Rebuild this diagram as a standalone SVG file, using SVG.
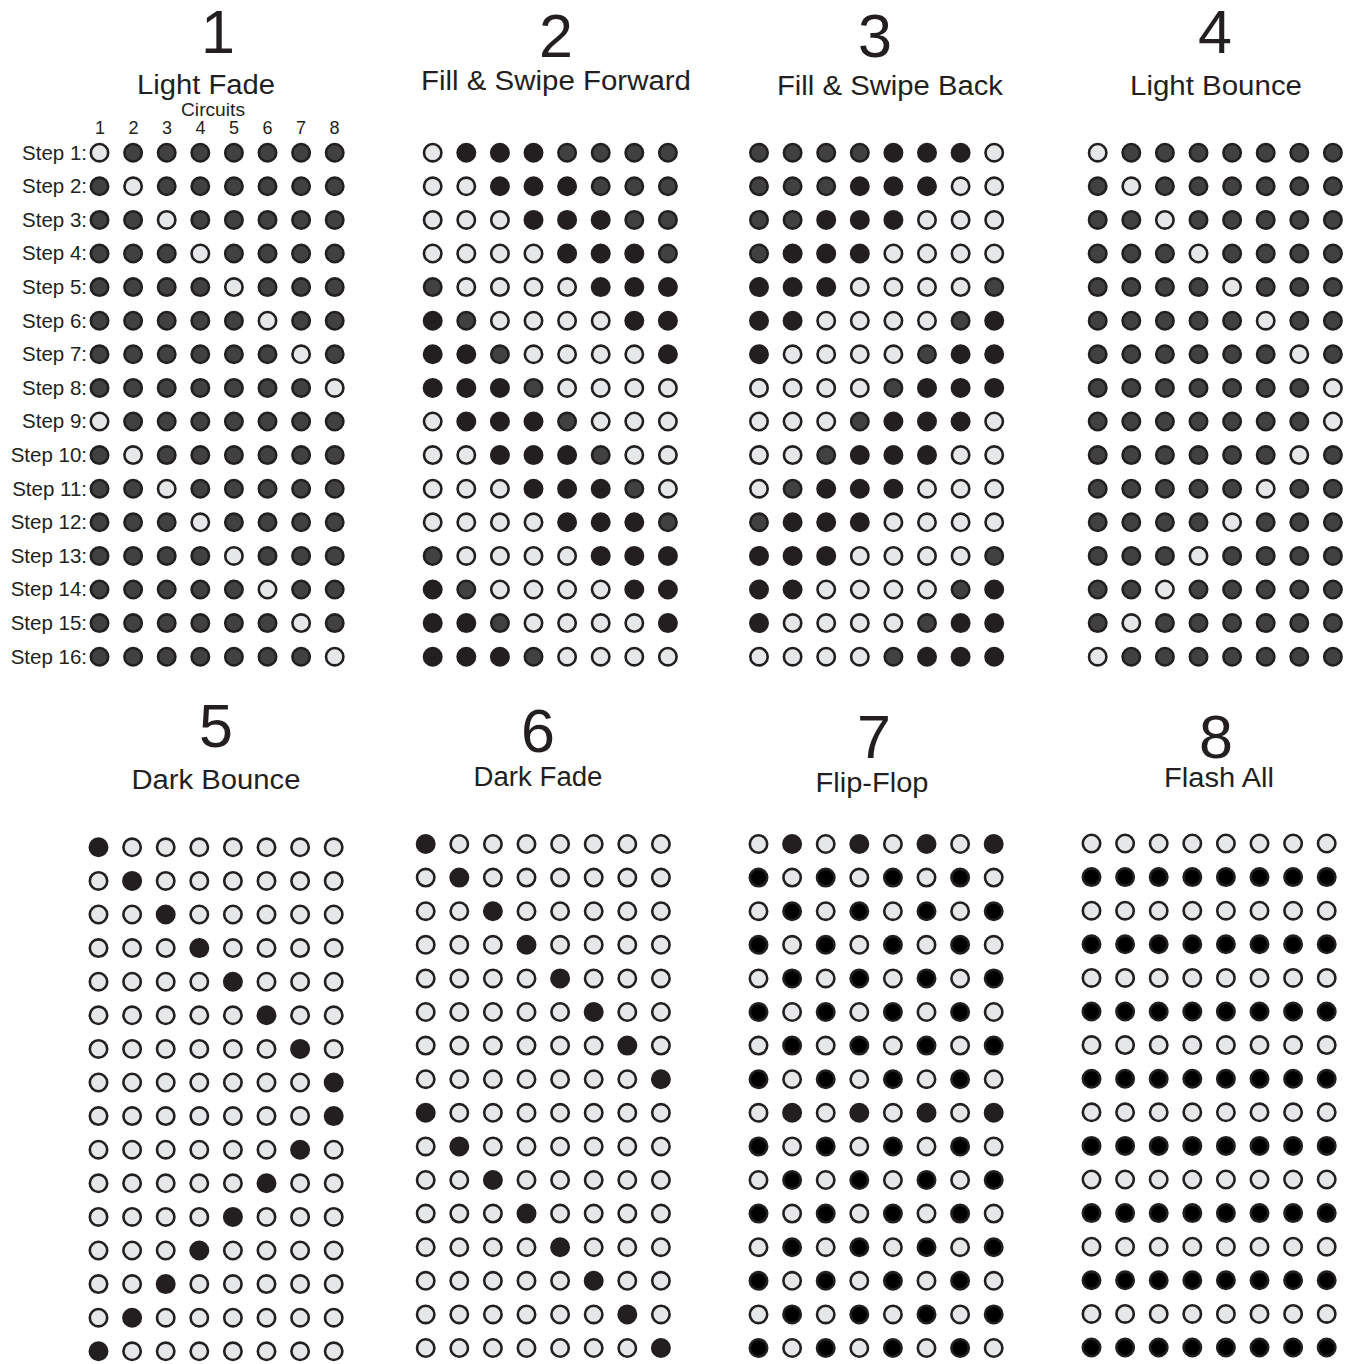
<svg xmlns="http://www.w3.org/2000/svg" xmlns:xlink="http://www.w3.org/1999/xlink" width="1356" height="1364" viewBox="0 0 1356 1364">
<style>
text{font-family:"Liberation Sans",Arial,sans-serif;fill:#231f20}
.num{font-size:61px;text-anchor:middle}
.ttl{font-size:27px;text-anchor:middle}
.sm{font-size:18px;text-anchor:middle}
.stp{font-size:20.5px;text-anchor:end}
</style>
<defs>
<circle id="L" r="8.7" fill="#e6e7e8" stroke="#231f20" stroke-width="2.6"/>
<circle id="G" r="8.7" fill="#414141" stroke="#231f20" stroke-width="2.6"/>
<circle id="B" r="8.7" fill="#231f20" stroke="#231f20" stroke-width="2.6"/>
<circle id="K" r="8.7" fill="#000000" stroke="#231f20" stroke-width="2.6"/>
</defs>
<rect width="1356" height="1364" fill="#ffffff"/>
<g id="connectors"/>

<g id="panel1">
<text class="num" x="218" y="53">1</text>
<text class="ttl" x="206" y="94" textLength="138" lengthAdjust="spacingAndGlyphs">Light Fade</text>
<text class="sm" x="213" y="116" textLength="64" lengthAdjust="spacingAndGlyphs">Circuits</text>
<text class="sm" x="100" y="134">1</text><text class="sm" x="133.5" y="134">2</text><text class="sm" x="167" y="134">3</text><text class="sm" x="200.5" y="134">4</text><text class="sm" x="234" y="134">5</text><text class="sm" x="267.5" y="134">6</text><text class="sm" x="301" y="134">7</text><text class="sm" x="334.5" y="134">8</text>
<text class="stp" x="87" y="159.5">Step 1:</text>
<text class="stp" x="87" y="193.1">Step 2:</text>
<text class="stp" x="87" y="226.7">Step 3:</text>
<text class="stp" x="87" y="260.3">Step 4:</text>
<text class="stp" x="87" y="293.9">Step 5:</text>
<text class="stp" x="87" y="327.5">Step 6:</text>
<text class="stp" x="87" y="361.1">Step 7:</text>
<text class="stp" x="87" y="394.7">Step 8:</text>
<text class="stp" x="87" y="428.3">Step 9:</text>
<text class="stp" x="87" y="461.9">Step 10:</text>
<text class="stp" x="87" y="495.5">Step 11:</text>
<text class="stp" x="87" y="529.1">Step 12:</text>
<text class="stp" x="87" y="562.7">Step 13:</text>
<text class="stp" x="87" y="596.3">Step 14:</text>
<text class="stp" x="87" y="629.9">Step 15:</text>
<text class="stp" x="87" y="663.5">Step 16:</text>
<g transform="translate(99.5,152.7)">
<g><use href="#L"/><use href="#G" x="33.6"/><use href="#G" x="67.2"/><use href="#G" x="100.8"/><use href="#G" x="134.4"/><use href="#G" x="168"/><use href="#G" x="201.6"/><use href="#G" x="235.2"/></g>
<g transform="translate(0,33.6)"><use href="#G"/><use href="#L" x="33.6"/><use href="#G" x="67.2"/><use href="#G" x="100.8"/><use href="#G" x="134.4"/><use href="#G" x="168"/><use href="#G" x="201.6"/><use href="#G" x="235.2"/></g>
<g transform="translate(0,67.2)"><use href="#G"/><use href="#G" x="33.6"/><use href="#L" x="67.2"/><use href="#G" x="100.8"/><use href="#G" x="134.4"/><use href="#G" x="168"/><use href="#G" x="201.6"/><use href="#G" x="235.2"/></g>
<g transform="translate(0,100.8)"><use href="#G"/><use href="#G" x="33.6"/><use href="#G" x="67.2"/><use href="#L" x="100.8"/><use href="#G" x="134.4"/><use href="#G" x="168"/><use href="#G" x="201.6"/><use href="#G" x="235.2"/></g>
<g transform="translate(0,134.4)"><use href="#G"/><use href="#G" x="33.6"/><use href="#G" x="67.2"/><use href="#G" x="100.8"/><use href="#L" x="134.4"/><use href="#G" x="168"/><use href="#G" x="201.6"/><use href="#G" x="235.2"/></g>
<g transform="translate(0,168)"><use href="#G"/><use href="#G" x="33.6"/><use href="#G" x="67.2"/><use href="#G" x="100.8"/><use href="#G" x="134.4"/><use href="#L" x="168"/><use href="#G" x="201.6"/><use href="#G" x="235.2"/></g>
<g transform="translate(0,201.6)"><use href="#G"/><use href="#G" x="33.6"/><use href="#G" x="67.2"/><use href="#G" x="100.8"/><use href="#G" x="134.4"/><use href="#G" x="168"/><use href="#L" x="201.6"/><use href="#G" x="235.2"/></g>
<g transform="translate(0,235.2)"><use href="#G"/><use href="#G" x="33.6"/><use href="#G" x="67.2"/><use href="#G" x="100.8"/><use href="#G" x="134.4"/><use href="#G" x="168"/><use href="#G" x="201.6"/><use href="#L" x="235.2"/></g>
<g transform="translate(0,268.8)"><use href="#L"/><use href="#G" x="33.6"/><use href="#G" x="67.2"/><use href="#G" x="100.8"/><use href="#G" x="134.4"/><use href="#G" x="168"/><use href="#G" x="201.6"/><use href="#G" x="235.2"/></g>
<g transform="translate(0,302.4)"><use href="#G"/><use href="#L" x="33.6"/><use href="#G" x="67.2"/><use href="#G" x="100.8"/><use href="#G" x="134.4"/><use href="#G" x="168"/><use href="#G" x="201.6"/><use href="#G" x="235.2"/></g>
<g transform="translate(0,336)"><use href="#G"/><use href="#G" x="33.6"/><use href="#L" x="67.2"/><use href="#G" x="100.8"/><use href="#G" x="134.4"/><use href="#G" x="168"/><use href="#G" x="201.6"/><use href="#G" x="235.2"/></g>
<g transform="translate(0,369.6)"><use href="#G"/><use href="#G" x="33.6"/><use href="#G" x="67.2"/><use href="#L" x="100.8"/><use href="#G" x="134.4"/><use href="#G" x="168"/><use href="#G" x="201.6"/><use href="#G" x="235.2"/></g>
<g transform="translate(0,403.2)"><use href="#G"/><use href="#G" x="33.6"/><use href="#G" x="67.2"/><use href="#G" x="100.8"/><use href="#L" x="134.4"/><use href="#G" x="168"/><use href="#G" x="201.6"/><use href="#G" x="235.2"/></g>
<g transform="translate(0,436.8)"><use href="#G"/><use href="#G" x="33.6"/><use href="#G" x="67.2"/><use href="#G" x="100.8"/><use href="#G" x="134.4"/><use href="#L" x="168"/><use href="#G" x="201.6"/><use href="#G" x="235.2"/></g>
<g transform="translate(0,470.4)"><use href="#G"/><use href="#G" x="33.6"/><use href="#G" x="67.2"/><use href="#G" x="100.8"/><use href="#G" x="134.4"/><use href="#G" x="168"/><use href="#L" x="201.6"/><use href="#G" x="235.2"/></g>
<g transform="translate(0,504)"><use href="#G"/><use href="#G" x="33.6"/><use href="#G" x="67.2"/><use href="#G" x="100.8"/><use href="#G" x="134.4"/><use href="#G" x="168"/><use href="#G" x="201.6"/><use href="#L" x="235.2"/></g>
</g>
</g>

<g id="panel2">
<text class="num" x="556" y="57">2</text>
<text class="ttl" x="556" y="90" textLength="270" lengthAdjust="spacingAndGlyphs">Fill &amp; Swipe Forward</text>
<g transform="translate(432.7,152.7)">
<g><use href="#L"/><use href="#B" x="33.6"/><use href="#B" x="67.2"/><use href="#B" x="100.8"/><use href="#G" x="134.4"/><use href="#G" x="168"/><use href="#G" x="201.6"/><use href="#G" x="235.2"/></g>
<g transform="translate(0,33.6)"><use href="#L"/><use href="#L" x="33.6"/><use href="#B" x="67.2"/><use href="#B" x="100.8"/><use href="#B" x="134.4"/><use href="#G" x="168"/><use href="#G" x="201.6"/><use href="#G" x="235.2"/></g>
<g transform="translate(0,67.2)"><use href="#L"/><use href="#L" x="33.6"/><use href="#L" x="67.2"/><use href="#B" x="100.8"/><use href="#B" x="134.4"/><use href="#B" x="168"/><use href="#G" x="201.6"/><use href="#G" x="235.2"/></g>
<g transform="translate(0,100.8)"><use href="#L"/><use href="#L" x="33.6"/><use href="#L" x="67.2"/><use href="#L" x="100.8"/><use href="#B" x="134.4"/><use href="#B" x="168"/><use href="#B" x="201.6"/><use href="#G" x="235.2"/></g>
<g transform="translate(0,134.4)"><use href="#G"/><use href="#L" x="33.6"/><use href="#L" x="67.2"/><use href="#L" x="100.8"/><use href="#L" x="134.4"/><use href="#B" x="168"/><use href="#B" x="201.6"/><use href="#B" x="235.2"/></g>
<g transform="translate(0,168)"><use href="#B"/><use href="#G" x="33.6"/><use href="#L" x="67.2"/><use href="#L" x="100.8"/><use href="#L" x="134.4"/><use href="#L" x="168"/><use href="#B" x="201.6"/><use href="#B" x="235.2"/></g>
<g transform="translate(0,201.6)"><use href="#B"/><use href="#B" x="33.6"/><use href="#G" x="67.2"/><use href="#L" x="100.8"/><use href="#L" x="134.4"/><use href="#L" x="168"/><use href="#L" x="201.6"/><use href="#B" x="235.2"/></g>
<g transform="translate(0,235.2)"><use href="#B"/><use href="#B" x="33.6"/><use href="#B" x="67.2"/><use href="#G" x="100.8"/><use href="#L" x="134.4"/><use href="#L" x="168"/><use href="#L" x="201.6"/><use href="#L" x="235.2"/></g>
<g transform="translate(0,268.8)"><use href="#L"/><use href="#B" x="33.6"/><use href="#B" x="67.2"/><use href="#B" x="100.8"/><use href="#G" x="134.4"/><use href="#L" x="168"/><use href="#L" x="201.6"/><use href="#L" x="235.2"/></g>
<g transform="translate(0,302.4)"><use href="#L"/><use href="#L" x="33.6"/><use href="#B" x="67.2"/><use href="#B" x="100.8"/><use href="#B" x="134.4"/><use href="#G" x="168"/><use href="#L" x="201.6"/><use href="#L" x="235.2"/></g>
<g transform="translate(0,336)"><use href="#L"/><use href="#L" x="33.6"/><use href="#L" x="67.2"/><use href="#B" x="100.8"/><use href="#B" x="134.4"/><use href="#B" x="168"/><use href="#G" x="201.6"/><use href="#L" x="235.2"/></g>
<g transform="translate(0,369.6)"><use href="#L"/><use href="#L" x="33.6"/><use href="#L" x="67.2"/><use href="#L" x="100.8"/><use href="#B" x="134.4"/><use href="#B" x="168"/><use href="#B" x="201.6"/><use href="#G" x="235.2"/></g>
<g transform="translate(0,403.2)"><use href="#G"/><use href="#L" x="33.6"/><use href="#L" x="67.2"/><use href="#L" x="100.8"/><use href="#L" x="134.4"/><use href="#B" x="168"/><use href="#B" x="201.6"/><use href="#B" x="235.2"/></g>
<g transform="translate(0,436.8)"><use href="#B"/><use href="#G" x="33.6"/><use href="#L" x="67.2"/><use href="#L" x="100.8"/><use href="#L" x="134.4"/><use href="#L" x="168"/><use href="#B" x="201.6"/><use href="#B" x="235.2"/></g>
<g transform="translate(0,470.4)"><use href="#B"/><use href="#B" x="33.6"/><use href="#G" x="67.2"/><use href="#L" x="100.8"/><use href="#L" x="134.4"/><use href="#L" x="168"/><use href="#L" x="201.6"/><use href="#B" x="235.2"/></g>
<g transform="translate(0,504)"><use href="#B"/><use href="#B" x="33.6"/><use href="#B" x="67.2"/><use href="#G" x="100.8"/><use href="#L" x="134.4"/><use href="#L" x="168"/><use href="#L" x="201.6"/><use href="#L" x="235.2"/></g>
</g>
</g>

<g id="panel3">
<text class="num" x="875" y="57">3</text>
<text class="ttl" x="890" y="95" textLength="226" lengthAdjust="spacingAndGlyphs">Fill &amp; Swipe Back</text>
<g transform="translate(759,152.7)">
<g><use href="#G"/><use href="#G" x="33.6"/><use href="#G" x="67.2"/><use href="#G" x="100.8"/><use href="#B" x="134.4"/><use href="#B" x="168"/><use href="#B" x="201.6"/><use href="#L" x="235.2"/></g>
<g transform="translate(0,33.6)"><use href="#G"/><use href="#G" x="33.6"/><use href="#G" x="67.2"/><use href="#B" x="100.8"/><use href="#B" x="134.4"/><use href="#B" x="168"/><use href="#L" x="201.6"/><use href="#L" x="235.2"/></g>
<g transform="translate(0,67.2)"><use href="#G"/><use href="#G" x="33.6"/><use href="#B" x="67.2"/><use href="#B" x="100.8"/><use href="#B" x="134.4"/><use href="#L" x="168"/><use href="#L" x="201.6"/><use href="#L" x="235.2"/></g>
<g transform="translate(0,100.8)"><use href="#G"/><use href="#B" x="33.6"/><use href="#B" x="67.2"/><use href="#B" x="100.8"/><use href="#L" x="134.4"/><use href="#L" x="168"/><use href="#L" x="201.6"/><use href="#L" x="235.2"/></g>
<g transform="translate(0,134.4)"><use href="#B"/><use href="#B" x="33.6"/><use href="#B" x="67.2"/><use href="#L" x="100.8"/><use href="#L" x="134.4"/><use href="#L" x="168"/><use href="#L" x="201.6"/><use href="#G" x="235.2"/></g>
<g transform="translate(0,168)"><use href="#B"/><use href="#B" x="33.6"/><use href="#L" x="67.2"/><use href="#L" x="100.8"/><use href="#L" x="134.4"/><use href="#L" x="168"/><use href="#G" x="201.6"/><use href="#B" x="235.2"/></g>
<g transform="translate(0,201.6)"><use href="#B"/><use href="#L" x="33.6"/><use href="#L" x="67.2"/><use href="#L" x="100.8"/><use href="#L" x="134.4"/><use href="#G" x="168"/><use href="#B" x="201.6"/><use href="#B" x="235.2"/></g>
<g transform="translate(0,235.2)"><use href="#L"/><use href="#L" x="33.6"/><use href="#L" x="67.2"/><use href="#L" x="100.8"/><use href="#G" x="134.4"/><use href="#B" x="168"/><use href="#B" x="201.6"/><use href="#B" x="235.2"/></g>
<g transform="translate(0,268.8)"><use href="#L"/><use href="#L" x="33.6"/><use href="#L" x="67.2"/><use href="#G" x="100.8"/><use href="#B" x="134.4"/><use href="#B" x="168"/><use href="#B" x="201.6"/><use href="#L" x="235.2"/></g>
<g transform="translate(0,302.4)"><use href="#L"/><use href="#L" x="33.6"/><use href="#G" x="67.2"/><use href="#B" x="100.8"/><use href="#B" x="134.4"/><use href="#B" x="168"/><use href="#L" x="201.6"/><use href="#L" x="235.2"/></g>
<g transform="translate(0,336)"><use href="#L"/><use href="#G" x="33.6"/><use href="#B" x="67.2"/><use href="#B" x="100.8"/><use href="#B" x="134.4"/><use href="#L" x="168"/><use href="#L" x="201.6"/><use href="#L" x="235.2"/></g>
<g transform="translate(0,369.6)"><use href="#G"/><use href="#B" x="33.6"/><use href="#B" x="67.2"/><use href="#B" x="100.8"/><use href="#L" x="134.4"/><use href="#L" x="168"/><use href="#L" x="201.6"/><use href="#L" x="235.2"/></g>
<g transform="translate(0,403.2)"><use href="#B"/><use href="#B" x="33.6"/><use href="#B" x="67.2"/><use href="#L" x="100.8"/><use href="#L" x="134.4"/><use href="#L" x="168"/><use href="#L" x="201.6"/><use href="#G" x="235.2"/></g>
<g transform="translate(0,436.8)"><use href="#B"/><use href="#B" x="33.6"/><use href="#L" x="67.2"/><use href="#L" x="100.8"/><use href="#L" x="134.4"/><use href="#L" x="168"/><use href="#G" x="201.6"/><use href="#B" x="235.2"/></g>
<g transform="translate(0,470.4)"><use href="#B"/><use href="#L" x="33.6"/><use href="#L" x="67.2"/><use href="#L" x="100.8"/><use href="#L" x="134.4"/><use href="#G" x="168"/><use href="#B" x="201.6"/><use href="#B" x="235.2"/></g>
<g transform="translate(0,504)"><use href="#L"/><use href="#L" x="33.6"/><use href="#L" x="67.2"/><use href="#L" x="100.8"/><use href="#G" x="134.4"/><use href="#B" x="168"/><use href="#B" x="201.6"/><use href="#B" x="235.2"/></g>
</g>
</g>

<g id="panel4">
<text class="num" x="1215" y="53">4</text>
<text class="ttl" x="1216" y="95" textLength="172" lengthAdjust="spacingAndGlyphs">Light Bounce</text>
<g transform="translate(1097.7,152.7)">
<g><use href="#L"/><use href="#G" x="33.6"/><use href="#G" x="67.2"/><use href="#G" x="100.8"/><use href="#G" x="134.4"/><use href="#G" x="168"/><use href="#G" x="201.6"/><use href="#G" x="235.2"/></g>
<g transform="translate(0,33.6)"><use href="#G"/><use href="#L" x="33.6"/><use href="#G" x="67.2"/><use href="#G" x="100.8"/><use href="#G" x="134.4"/><use href="#G" x="168"/><use href="#G" x="201.6"/><use href="#G" x="235.2"/></g>
<g transform="translate(0,67.2)"><use href="#G"/><use href="#G" x="33.6"/><use href="#L" x="67.2"/><use href="#G" x="100.8"/><use href="#G" x="134.4"/><use href="#G" x="168"/><use href="#G" x="201.6"/><use href="#G" x="235.2"/></g>
<g transform="translate(0,100.8)"><use href="#G"/><use href="#G" x="33.6"/><use href="#G" x="67.2"/><use href="#L" x="100.8"/><use href="#G" x="134.4"/><use href="#G" x="168"/><use href="#G" x="201.6"/><use href="#G" x="235.2"/></g>
<g transform="translate(0,134.4)"><use href="#G"/><use href="#G" x="33.6"/><use href="#G" x="67.2"/><use href="#G" x="100.8"/><use href="#L" x="134.4"/><use href="#G" x="168"/><use href="#G" x="201.6"/><use href="#G" x="235.2"/></g>
<g transform="translate(0,168)"><use href="#G"/><use href="#G" x="33.6"/><use href="#G" x="67.2"/><use href="#G" x="100.8"/><use href="#G" x="134.4"/><use href="#L" x="168"/><use href="#G" x="201.6"/><use href="#G" x="235.2"/></g>
<g transform="translate(0,201.6)"><use href="#G"/><use href="#G" x="33.6"/><use href="#G" x="67.2"/><use href="#G" x="100.8"/><use href="#G" x="134.4"/><use href="#G" x="168"/><use href="#L" x="201.6"/><use href="#G" x="235.2"/></g>
<g transform="translate(0,235.2)"><use href="#G"/><use href="#G" x="33.6"/><use href="#G" x="67.2"/><use href="#G" x="100.8"/><use href="#G" x="134.4"/><use href="#G" x="168"/><use href="#G" x="201.6"/><use href="#L" x="235.2"/></g>
<g transform="translate(0,268.8)"><use href="#G"/><use href="#G" x="33.6"/><use href="#G" x="67.2"/><use href="#G" x="100.8"/><use href="#G" x="134.4"/><use href="#G" x="168"/><use href="#G" x="201.6"/><use href="#L" x="235.2"/></g>
<g transform="translate(0,302.4)"><use href="#G"/><use href="#G" x="33.6"/><use href="#G" x="67.2"/><use href="#G" x="100.8"/><use href="#G" x="134.4"/><use href="#G" x="168"/><use href="#L" x="201.6"/><use href="#G" x="235.2"/></g>
<g transform="translate(0,336)"><use href="#G"/><use href="#G" x="33.6"/><use href="#G" x="67.2"/><use href="#G" x="100.8"/><use href="#G" x="134.4"/><use href="#L" x="168"/><use href="#G" x="201.6"/><use href="#G" x="235.2"/></g>
<g transform="translate(0,369.6)"><use href="#G"/><use href="#G" x="33.6"/><use href="#G" x="67.2"/><use href="#G" x="100.8"/><use href="#L" x="134.4"/><use href="#G" x="168"/><use href="#G" x="201.6"/><use href="#G" x="235.2"/></g>
<g transform="translate(0,403.2)"><use href="#G"/><use href="#G" x="33.6"/><use href="#G" x="67.2"/><use href="#L" x="100.8"/><use href="#G" x="134.4"/><use href="#G" x="168"/><use href="#G" x="201.6"/><use href="#G" x="235.2"/></g>
<g transform="translate(0,436.8)"><use href="#G"/><use href="#G" x="33.6"/><use href="#L" x="67.2"/><use href="#G" x="100.8"/><use href="#G" x="134.4"/><use href="#G" x="168"/><use href="#G" x="201.6"/><use href="#G" x="235.2"/></g>
<g transform="translate(0,470.4)"><use href="#G"/><use href="#L" x="33.6"/><use href="#G" x="67.2"/><use href="#G" x="100.8"/><use href="#G" x="134.4"/><use href="#G" x="168"/><use href="#G" x="201.6"/><use href="#G" x="235.2"/></g>
<g transform="translate(0,504)"><use href="#L"/><use href="#G" x="33.6"/><use href="#G" x="67.2"/><use href="#G" x="100.8"/><use href="#G" x="134.4"/><use href="#G" x="168"/><use href="#G" x="201.6"/><use href="#G" x="235.2"/></g>
</g>
</g>

<g id="panel5">
<text class="num" x="216" y="747">5</text>
<text class="ttl" x="216" y="789" textLength="169" lengthAdjust="spacingAndGlyphs">Dark Bounce</text>
<g transform="translate(98.5,847.3)">
<g><use href="#B"/><use href="#L" x="33.6"/><use href="#L" x="67.2"/><use href="#L" x="100.8"/><use href="#L" x="134.4"/><use href="#L" x="168"/><use href="#L" x="201.6"/><use href="#L" x="235.2"/></g>
<g transform="translate(0,33.6)"><use href="#L"/><use href="#B" x="33.6"/><use href="#L" x="67.2"/><use href="#L" x="100.8"/><use href="#L" x="134.4"/><use href="#L" x="168"/><use href="#L" x="201.6"/><use href="#L" x="235.2"/></g>
<g transform="translate(0,67.2)"><use href="#L"/><use href="#L" x="33.6"/><use href="#B" x="67.2"/><use href="#L" x="100.8"/><use href="#L" x="134.4"/><use href="#L" x="168"/><use href="#L" x="201.6"/><use href="#L" x="235.2"/></g>
<g transform="translate(0,100.8)"><use href="#L"/><use href="#L" x="33.6"/><use href="#L" x="67.2"/><use href="#B" x="100.8"/><use href="#L" x="134.4"/><use href="#L" x="168"/><use href="#L" x="201.6"/><use href="#L" x="235.2"/></g>
<g transform="translate(0,134.4)"><use href="#L"/><use href="#L" x="33.6"/><use href="#L" x="67.2"/><use href="#L" x="100.8"/><use href="#B" x="134.4"/><use href="#L" x="168"/><use href="#L" x="201.6"/><use href="#L" x="235.2"/></g>
<g transform="translate(0,168)"><use href="#L"/><use href="#L" x="33.6"/><use href="#L" x="67.2"/><use href="#L" x="100.8"/><use href="#L" x="134.4"/><use href="#B" x="168"/><use href="#L" x="201.6"/><use href="#L" x="235.2"/></g>
<g transform="translate(0,201.6)"><use href="#L"/><use href="#L" x="33.6"/><use href="#L" x="67.2"/><use href="#L" x="100.8"/><use href="#L" x="134.4"/><use href="#L" x="168"/><use href="#B" x="201.6"/><use href="#L" x="235.2"/></g>
<g transform="translate(0,235.2)"><use href="#L"/><use href="#L" x="33.6"/><use href="#L" x="67.2"/><use href="#L" x="100.8"/><use href="#L" x="134.4"/><use href="#L" x="168"/><use href="#L" x="201.6"/><use href="#B" x="235.2"/></g>
<g transform="translate(0,268.8)"><use href="#L"/><use href="#L" x="33.6"/><use href="#L" x="67.2"/><use href="#L" x="100.8"/><use href="#L" x="134.4"/><use href="#L" x="168"/><use href="#L" x="201.6"/><use href="#B" x="235.2"/></g>
<g transform="translate(0,302.4)"><use href="#L"/><use href="#L" x="33.6"/><use href="#L" x="67.2"/><use href="#L" x="100.8"/><use href="#L" x="134.4"/><use href="#L" x="168"/><use href="#B" x="201.6"/><use href="#L" x="235.2"/></g>
<g transform="translate(0,336)"><use href="#L"/><use href="#L" x="33.6"/><use href="#L" x="67.2"/><use href="#L" x="100.8"/><use href="#L" x="134.4"/><use href="#B" x="168"/><use href="#L" x="201.6"/><use href="#L" x="235.2"/></g>
<g transform="translate(0,369.6)"><use href="#L"/><use href="#L" x="33.6"/><use href="#L" x="67.2"/><use href="#L" x="100.8"/><use href="#B" x="134.4"/><use href="#L" x="168"/><use href="#L" x="201.6"/><use href="#L" x="235.2"/></g>
<g transform="translate(0,403.2)"><use href="#L"/><use href="#L" x="33.6"/><use href="#L" x="67.2"/><use href="#B" x="100.8"/><use href="#L" x="134.4"/><use href="#L" x="168"/><use href="#L" x="201.6"/><use href="#L" x="235.2"/></g>
<g transform="translate(0,436.8)"><use href="#L"/><use href="#L" x="33.6"/><use href="#B" x="67.2"/><use href="#L" x="100.8"/><use href="#L" x="134.4"/><use href="#L" x="168"/><use href="#L" x="201.6"/><use href="#L" x="235.2"/></g>
<g transform="translate(0,470.4)"><use href="#L"/><use href="#B" x="33.6"/><use href="#L" x="67.2"/><use href="#L" x="100.8"/><use href="#L" x="134.4"/><use href="#L" x="168"/><use href="#L" x="201.6"/><use href="#L" x="235.2"/></g>
<g transform="translate(0,504)"><use href="#B"/><use href="#L" x="33.6"/><use href="#L" x="67.2"/><use href="#L" x="100.8"/><use href="#L" x="134.4"/><use href="#L" x="168"/><use href="#L" x="201.6"/><use href="#L" x="235.2"/></g>
</g>
</g>

<g id="panel6">
<text class="num" x="538" y="752">6</text>
<text class="ttl" x="538" y="786" textLength="129" lengthAdjust="spacingAndGlyphs">Dark Fade</text>
<g transform="translate(425.7,844)">
<g><use href="#B"/><use href="#L" x="33.6"/><use href="#L" x="67.2"/><use href="#L" x="100.8"/><use href="#L" x="134.4"/><use href="#L" x="168"/><use href="#L" x="201.6"/><use href="#L" x="235.2"/></g>
<g transform="translate(0,33.6)"><use href="#L"/><use href="#B" x="33.6"/><use href="#L" x="67.2"/><use href="#L" x="100.8"/><use href="#L" x="134.4"/><use href="#L" x="168"/><use href="#L" x="201.6"/><use href="#L" x="235.2"/></g>
<g transform="translate(0,67.2)"><use href="#L"/><use href="#L" x="33.6"/><use href="#B" x="67.2"/><use href="#L" x="100.8"/><use href="#L" x="134.4"/><use href="#L" x="168"/><use href="#L" x="201.6"/><use href="#L" x="235.2"/></g>
<g transform="translate(0,100.8)"><use href="#L"/><use href="#L" x="33.6"/><use href="#L" x="67.2"/><use href="#B" x="100.8"/><use href="#L" x="134.4"/><use href="#L" x="168"/><use href="#L" x="201.6"/><use href="#L" x="235.2"/></g>
<g transform="translate(0,134.4)"><use href="#L"/><use href="#L" x="33.6"/><use href="#L" x="67.2"/><use href="#L" x="100.8"/><use href="#B" x="134.4"/><use href="#L" x="168"/><use href="#L" x="201.6"/><use href="#L" x="235.2"/></g>
<g transform="translate(0,168)"><use href="#L"/><use href="#L" x="33.6"/><use href="#L" x="67.2"/><use href="#L" x="100.8"/><use href="#L" x="134.4"/><use href="#B" x="168"/><use href="#L" x="201.6"/><use href="#L" x="235.2"/></g>
<g transform="translate(0,201.6)"><use href="#L"/><use href="#L" x="33.6"/><use href="#L" x="67.2"/><use href="#L" x="100.8"/><use href="#L" x="134.4"/><use href="#L" x="168"/><use href="#B" x="201.6"/><use href="#L" x="235.2"/></g>
<g transform="translate(0,235.2)"><use href="#L"/><use href="#L" x="33.6"/><use href="#L" x="67.2"/><use href="#L" x="100.8"/><use href="#L" x="134.4"/><use href="#L" x="168"/><use href="#L" x="201.6"/><use href="#B" x="235.2"/></g>
<g transform="translate(0,268.8)"><use href="#B"/><use href="#L" x="33.6"/><use href="#L" x="67.2"/><use href="#L" x="100.8"/><use href="#L" x="134.4"/><use href="#L" x="168"/><use href="#L" x="201.6"/><use href="#L" x="235.2"/></g>
<g transform="translate(0,302.4)"><use href="#L"/><use href="#B" x="33.6"/><use href="#L" x="67.2"/><use href="#L" x="100.8"/><use href="#L" x="134.4"/><use href="#L" x="168"/><use href="#L" x="201.6"/><use href="#L" x="235.2"/></g>
<g transform="translate(0,336)"><use href="#L"/><use href="#L" x="33.6"/><use href="#B" x="67.2"/><use href="#L" x="100.8"/><use href="#L" x="134.4"/><use href="#L" x="168"/><use href="#L" x="201.6"/><use href="#L" x="235.2"/></g>
<g transform="translate(0,369.6)"><use href="#L"/><use href="#L" x="33.6"/><use href="#L" x="67.2"/><use href="#B" x="100.8"/><use href="#L" x="134.4"/><use href="#L" x="168"/><use href="#L" x="201.6"/><use href="#L" x="235.2"/></g>
<g transform="translate(0,403.2)"><use href="#L"/><use href="#L" x="33.6"/><use href="#L" x="67.2"/><use href="#L" x="100.8"/><use href="#B" x="134.4"/><use href="#L" x="168"/><use href="#L" x="201.6"/><use href="#L" x="235.2"/></g>
<g transform="translate(0,436.8)"><use href="#L"/><use href="#L" x="33.6"/><use href="#L" x="67.2"/><use href="#L" x="100.8"/><use href="#L" x="134.4"/><use href="#B" x="168"/><use href="#L" x="201.6"/><use href="#L" x="235.2"/></g>
<g transform="translate(0,470.4)"><use href="#L"/><use href="#L" x="33.6"/><use href="#L" x="67.2"/><use href="#L" x="100.8"/><use href="#L" x="134.4"/><use href="#L" x="168"/><use href="#B" x="201.6"/><use href="#L" x="235.2"/></g>
<g transform="translate(0,504)"><use href="#L"/><use href="#L" x="33.6"/><use href="#L" x="67.2"/><use href="#L" x="100.8"/><use href="#L" x="134.4"/><use href="#L" x="168"/><use href="#L" x="201.6"/><use href="#B" x="235.2"/></g>
</g>
</g>

<g id="panel7">
<text class="num" x="874" y="758">7</text>
<text class="ttl" x="872" y="792" textLength="113" lengthAdjust="spacingAndGlyphs">Flip-Flop</text>
<g transform="translate(758.5,844)">
<g><use href="#L"/><use href="#B" x="33.6"/><use href="#L" x="67.2"/><use href="#B" x="100.8"/><use href="#L" x="134.4"/><use href="#B" x="168"/><use href="#L" x="201.6"/><use href="#B" x="235.2"/></g>
<g transform="translate(0,33.6)"><use href="#K"/><use href="#L" x="33.6"/><use href="#K" x="67.2"/><use href="#L" x="100.8"/><use href="#K" x="134.4"/><use href="#L" x="168"/><use href="#K" x="201.6"/><use href="#L" x="235.2"/></g>
<g transform="translate(0,67.2)"><use href="#L"/><use href="#K" x="33.6"/><use href="#L" x="67.2"/><use href="#K" x="100.8"/><use href="#L" x="134.4"/><use href="#K" x="168"/><use href="#L" x="201.6"/><use href="#K" x="235.2"/></g>
<g transform="translate(0,100.8)"><use href="#K"/><use href="#L" x="33.6"/><use href="#K" x="67.2"/><use href="#L" x="100.8"/><use href="#K" x="134.4"/><use href="#L" x="168"/><use href="#K" x="201.6"/><use href="#L" x="235.2"/></g>
<g transform="translate(0,134.4)"><use href="#L"/><use href="#K" x="33.6"/><use href="#L" x="67.2"/><use href="#K" x="100.8"/><use href="#L" x="134.4"/><use href="#K" x="168"/><use href="#L" x="201.6"/><use href="#K" x="235.2"/></g>
<g transform="translate(0,168)"><use href="#K"/><use href="#L" x="33.6"/><use href="#K" x="67.2"/><use href="#L" x="100.8"/><use href="#K" x="134.4"/><use href="#L" x="168"/><use href="#K" x="201.6"/><use href="#L" x="235.2"/></g>
<g transform="translate(0,201.6)"><use href="#L"/><use href="#K" x="33.6"/><use href="#L" x="67.2"/><use href="#K" x="100.8"/><use href="#L" x="134.4"/><use href="#K" x="168"/><use href="#L" x="201.6"/><use href="#K" x="235.2"/></g>
<g transform="translate(0,235.2)"><use href="#K"/><use href="#L" x="33.6"/><use href="#K" x="67.2"/><use href="#L" x="100.8"/><use href="#K" x="134.4"/><use href="#L" x="168"/><use href="#K" x="201.6"/><use href="#L" x="235.2"/></g>
<g transform="translate(0,268.8)"><use href="#L"/><use href="#B" x="33.6"/><use href="#L" x="67.2"/><use href="#B" x="100.8"/><use href="#L" x="134.4"/><use href="#B" x="168"/><use href="#L" x="201.6"/><use href="#B" x="235.2"/></g>
<g transform="translate(0,302.4)"><use href="#K"/><use href="#L" x="33.6"/><use href="#K" x="67.2"/><use href="#L" x="100.8"/><use href="#K" x="134.4"/><use href="#L" x="168"/><use href="#K" x="201.6"/><use href="#L" x="235.2"/></g>
<g transform="translate(0,336)"><use href="#L"/><use href="#K" x="33.6"/><use href="#L" x="67.2"/><use href="#K" x="100.8"/><use href="#L" x="134.4"/><use href="#K" x="168"/><use href="#L" x="201.6"/><use href="#K" x="235.2"/></g>
<g transform="translate(0,369.6)"><use href="#K"/><use href="#L" x="33.6"/><use href="#K" x="67.2"/><use href="#L" x="100.8"/><use href="#K" x="134.4"/><use href="#L" x="168"/><use href="#K" x="201.6"/><use href="#L" x="235.2"/></g>
<g transform="translate(0,403.2)"><use href="#L"/><use href="#K" x="33.6"/><use href="#L" x="67.2"/><use href="#K" x="100.8"/><use href="#L" x="134.4"/><use href="#K" x="168"/><use href="#L" x="201.6"/><use href="#K" x="235.2"/></g>
<g transform="translate(0,436.8)"><use href="#K"/><use href="#L" x="33.6"/><use href="#K" x="67.2"/><use href="#L" x="100.8"/><use href="#K" x="134.4"/><use href="#L" x="168"/><use href="#K" x="201.6"/><use href="#L" x="235.2"/></g>
<g transform="translate(0,470.4)"><use href="#L"/><use href="#K" x="33.6"/><use href="#L" x="67.2"/><use href="#K" x="100.8"/><use href="#L" x="134.4"/><use href="#K" x="168"/><use href="#L" x="201.6"/><use href="#K" x="235.2"/></g>
<g transform="translate(0,504)"><use href="#K"/><use href="#L" x="33.6"/><use href="#K" x="67.2"/><use href="#L" x="100.8"/><use href="#K" x="134.4"/><use href="#L" x="168"/><use href="#K" x="201.6"/><use href="#L" x="235.2"/></g>
</g>
</g>

<g id="panel8">
<text class="num" x="1216" y="758">8</text>
<text class="ttl" x="1219" y="787" textLength="110" lengthAdjust="spacingAndGlyphs">Flash All</text>
<g transform="translate(1091.5,843.5)">
<g><use href="#L"/><use href="#L" x="33.6"/><use href="#L" x="67.2"/><use href="#L" x="100.8"/><use href="#L" x="134.4"/><use href="#L" x="168"/><use href="#L" x="201.6"/><use href="#L" x="235.2"/></g>
<g transform="translate(0,33.6)"><use href="#K"/><use href="#K" x="33.6"/><use href="#K" x="67.2"/><use href="#K" x="100.8"/><use href="#K" x="134.4"/><use href="#K" x="168"/><use href="#K" x="201.6"/><use href="#K" x="235.2"/></g>
<g transform="translate(0,67.2)"><use href="#L"/><use href="#L" x="33.6"/><use href="#L" x="67.2"/><use href="#L" x="100.8"/><use href="#L" x="134.4"/><use href="#L" x="168"/><use href="#L" x="201.6"/><use href="#L" x="235.2"/></g>
<g transform="translate(0,100.8)"><use href="#K"/><use href="#K" x="33.6"/><use href="#K" x="67.2"/><use href="#K" x="100.8"/><use href="#K" x="134.4"/><use href="#K" x="168"/><use href="#K" x="201.6"/><use href="#K" x="235.2"/></g>
<g transform="translate(0,134.4)"><use href="#L"/><use href="#L" x="33.6"/><use href="#L" x="67.2"/><use href="#L" x="100.8"/><use href="#L" x="134.4"/><use href="#L" x="168"/><use href="#L" x="201.6"/><use href="#L" x="235.2"/></g>
<g transform="translate(0,168)"><use href="#K"/><use href="#K" x="33.6"/><use href="#K" x="67.2"/><use href="#K" x="100.8"/><use href="#K" x="134.4"/><use href="#K" x="168"/><use href="#K" x="201.6"/><use href="#K" x="235.2"/></g>
<g transform="translate(0,201.6)"><use href="#L"/><use href="#L" x="33.6"/><use href="#L" x="67.2"/><use href="#L" x="100.8"/><use href="#L" x="134.4"/><use href="#L" x="168"/><use href="#L" x="201.6"/><use href="#L" x="235.2"/></g>
<g transform="translate(0,235.2)"><use href="#K"/><use href="#K" x="33.6"/><use href="#K" x="67.2"/><use href="#K" x="100.8"/><use href="#K" x="134.4"/><use href="#K" x="168"/><use href="#K" x="201.6"/><use href="#K" x="235.2"/></g>
<g transform="translate(0,268.8)"><use href="#L"/><use href="#L" x="33.6"/><use href="#L" x="67.2"/><use href="#L" x="100.8"/><use href="#L" x="134.4"/><use href="#L" x="168"/><use href="#L" x="201.6"/><use href="#L" x="235.2"/></g>
<g transform="translate(0,302.4)"><use href="#K"/><use href="#K" x="33.6"/><use href="#K" x="67.2"/><use href="#K" x="100.8"/><use href="#K" x="134.4"/><use href="#K" x="168"/><use href="#K" x="201.6"/><use href="#K" x="235.2"/></g>
<g transform="translate(0,336)"><use href="#L"/><use href="#L" x="33.6"/><use href="#L" x="67.2"/><use href="#L" x="100.8"/><use href="#L" x="134.4"/><use href="#L" x="168"/><use href="#L" x="201.6"/><use href="#L" x="235.2"/></g>
<g transform="translate(0,369.6)"><use href="#K"/><use href="#K" x="33.6"/><use href="#K" x="67.2"/><use href="#K" x="100.8"/><use href="#K" x="134.4"/><use href="#K" x="168"/><use href="#K" x="201.6"/><use href="#K" x="235.2"/></g>
<g transform="translate(0,403.2)"><use href="#L"/><use href="#L" x="33.6"/><use href="#L" x="67.2"/><use href="#L" x="100.8"/><use href="#L" x="134.4"/><use href="#L" x="168"/><use href="#L" x="201.6"/><use href="#L" x="235.2"/></g>
<g transform="translate(0,436.8)"><use href="#K"/><use href="#K" x="33.6"/><use href="#K" x="67.2"/><use href="#K" x="100.8"/><use href="#K" x="134.4"/><use href="#K" x="168"/><use href="#K" x="201.6"/><use href="#K" x="235.2"/></g>
<g transform="translate(0,470.4)"><use href="#L"/><use href="#L" x="33.6"/><use href="#L" x="67.2"/><use href="#L" x="100.8"/><use href="#L" x="134.4"/><use href="#L" x="168"/><use href="#L" x="201.6"/><use href="#L" x="235.2"/></g>
<g transform="translate(0,504)"><use href="#K"/><use href="#K" x="33.6"/><use href="#K" x="67.2"/><use href="#K" x="100.8"/><use href="#K" x="134.4"/><use href="#K" x="168"/><use href="#K" x="201.6"/><use href="#K" x="235.2"/></g>
</g>
</g>
</svg>
